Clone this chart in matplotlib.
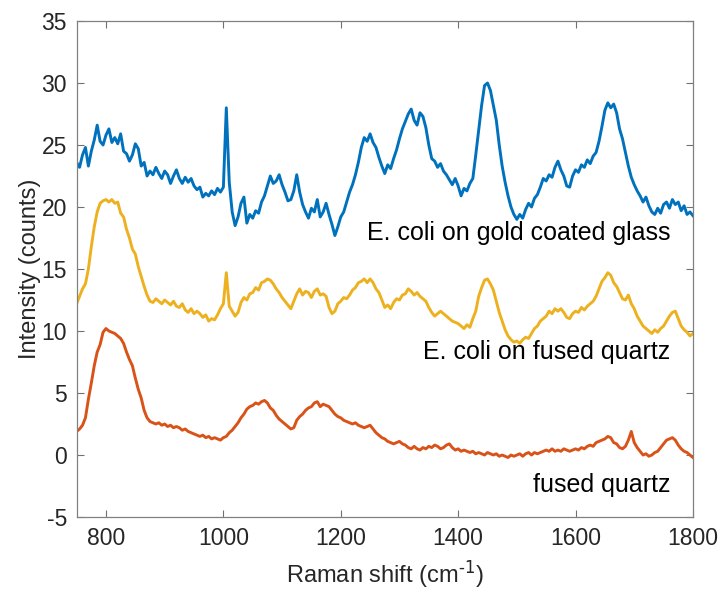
import numpy as np
import matplotlib as mpl
import matplotlib.pyplot as plt

mpl.use('Agg')
plt.rcParams['font.family'] = ['Liberation Sans', 'DejaVu Sans']
plt.rcParams['mathtext.default'] = 'regular'
plt.rcParams['axes.unicode_minus'] = False

# Raman shift grid (cm^-1), 5 cm^-1 spacing
shift = np.arange(750, 1805, 5)

# E. coli on gold coated glass
gold = [
    23.6, 23.2, 24.2, 24.8, 23.3, 24.5, 25.4, 26.6, 25.3, 25.0,
    25.8, 26.3, 25.2, 25.6, 25.1, 25.9, 24.5, 24.3, 23.7, 24.2,
    25.1, 24.7, 23.3, 23.6, 22.5, 22.9, 22.6, 23.2, 22.7, 22.3,
    22.9, 22.6, 21.9, 22.5, 23.0, 22.3, 21.9, 22.4, 22.0, 22.3,
    21.7, 21.4, 21.6, 20.8, 21.1, 20.9, 21.3, 21.0, 21.5, 21.2,
    21.6, 28.0, 22.0, 19.6, 18.5, 19.2, 20.3, 20.8, 18.7, 19.4,
    19.1, 19.7, 19.5, 20.4, 20.9, 21.7, 22.5, 21.9, 22.1, 22.6,
    21.8, 21.2, 20.5, 20.6, 21.3, 22.6, 21.2, 20.2, 19.6, 19.1,
    19.9, 19.6, 20.6, 19.2, 19.6, 20.3, 19.4, 18.6, 17.7, 18.4,
    19.2, 19.6, 20.4, 21.2, 21.8, 22.6, 23.6, 24.8, 25.6, 25.3,
    25.9, 25.2, 24.8, 24.0, 23.3, 22.7, 23.4, 23.1, 23.9, 24.6,
    25.5, 26.3, 26.9, 27.5, 27.9, 27.0, 26.6, 27.6, 27.3, 26.4,
    25.0, 23.9, 23.7, 23.2, 23.5, 22.9, 22.6, 22.2, 21.8, 22.3,
    21.7, 20.9, 21.5, 21.3, 21.9, 22.3, 24.2, 26.2, 28.2, 29.8,
    30.0, 29.4, 28.2, 27.0, 25.0, 23.3, 22.0, 20.9, 20.0, 19.4,
    19.0, 19.4, 19.1, 19.8, 20.3, 20.0, 20.7, 21.0, 21.6, 22.3,
    22.1, 22.6, 22.4, 23.2, 23.7, 23.0, 22.5, 21.7, 21.6, 22.5,
    23.0, 22.8, 23.4, 23.2, 23.8, 23.5, 24.1, 24.4, 25.3, 26.5,
    27.8, 28.4, 28.0, 28.3, 27.6, 26.3, 25.5, 24.4, 23.3, 22.4,
    21.8, 21.3, 20.9, 20.4, 20.8, 20.1, 19.6, 19.4, 19.9, 19.5,
    20.2, 20.4, 19.9, 20.6, 20.2, 20.4, 19.7, 20.1, 19.4, 19.6,
    19.3,
]

# E. coli on fused quartz
quartz_ecoli = [
    12.2, 12.8, 13.4, 13.8, 15.0, 16.8, 18.4, 19.6, 20.3, 20.5,
    20.6, 20.4, 20.6, 20.3, 20.4, 19.5, 19.2, 18.2, 17.5, 16.6,
    16.2, 15.2, 14.4, 13.6, 12.9, 12.4, 12.3, 12.6, 12.4, 12.2,
    12.5, 12.3, 12.1, 12.4, 12.0, 11.9, 12.2, 11.7, 11.5, 11.8,
    11.4, 11.6, 11.4, 11.1, 11.3, 10.8, 11.0, 10.9, 11.3, 11.8,
    12.2, 14.7, 12.0, 11.6, 11.2, 11.5, 12.3, 12.7, 12.5, 13.0,
    13.1, 13.5, 13.3, 13.9, 14.0, 14.2, 14.1, 13.8, 13.4, 13.1,
    12.7, 12.4, 12.1, 11.8, 12.4, 13.0, 13.4, 12.9, 13.2, 13.1,
    12.7, 13.2, 13.4, 12.9, 13.0, 12.8, 11.9, 11.4, 11.6, 12.2,
    12.4, 12.7, 12.6, 12.9, 13.3, 13.5, 13.9, 14.0, 14.2, 13.9,
    14.2, 13.9, 13.4, 13.1, 12.5, 11.9, 12.1, 11.8, 12.3, 12.6,
    12.5, 12.9, 13.0, 13.4, 13.2, 12.9, 13.1, 12.8, 12.6, 12.4,
    11.9, 11.5, 11.2, 11.4, 11.6, 11.4, 11.2, 11.0, 10.8, 10.7,
    10.6, 10.4, 10.2, 10.5, 10.3, 11.0, 11.6, 12.8, 13.5, 14.1,
    14.2, 13.8, 13.3, 12.4, 11.5, 10.8, 10.1, 9.6, 9.3, 9.1,
    9.2, 9.0, 9.3, 9.5, 9.4, 9.8, 10.2, 10.4, 10.8, 11.0,
    11.2, 11.6, 11.4, 11.8, 11.6, 11.8, 11.5, 11.1, 11.0, 11.4,
    11.6, 11.5, 11.9, 11.7, 12.0, 12.2, 12.4, 12.8, 13.4, 14.0,
    14.3, 14.7, 14.5, 13.9, 13.6, 13.1, 12.6, 12.5, 12.9, 12.2,
    11.8, 11.2, 10.8, 10.4, 10.2, 10.0, 9.8, 10.1, 9.9, 10.2,
    10.4, 10.8, 11.2, 11.5, 11.6, 11.0, 10.4, 10.1, 9.9, 9.6,
    9.8,
]

# fused quartz substrate
quartz = [
    1.9, 2.1, 2.4, 3.0, 4.5, 5.8, 7.2, 8.3, 8.9, 9.9,
    10.2, 10.0, 9.9, 9.8, 9.6, 9.4, 9.0, 8.3, 7.7, 7.2,
    6.2, 5.3, 4.6, 3.6, 3.0, 2.7, 2.6, 2.5, 2.6, 2.4,
    2.5, 2.3, 2.4, 2.2, 2.3, 2.2, 2.0, 2.1, 1.9, 1.8,
    1.7, 1.6, 1.5, 1.6, 1.4, 1.5, 1.3, 1.4, 1.3, 1.2,
    1.4, 1.5, 1.8, 2.0, 2.3, 2.6, 3.0, 3.3, 3.7, 3.9,
    4.0, 4.2, 4.1, 4.3, 4.4, 4.2, 3.8, 3.6, 3.2, 2.9,
    2.7, 2.5, 2.3, 2.1, 2.2, 2.8, 3.1, 3.3, 3.6, 3.8,
    3.9, 4.2, 4.3, 3.9, 4.1, 4.0, 3.9, 3.6, 3.3, 3.1,
    3.0, 2.8, 2.7, 2.6, 2.5, 2.6, 2.4, 2.3, 2.2, 2.3,
    2.4, 2.1, 1.8, 1.6, 1.4, 1.3, 1.1, 1.0, 0.9, 1.0,
    1.1, 0.9, 0.8, 0.6, 0.5, 0.7, 0.5, 0.4, 0.6, 0.5,
    0.7, 0.6, 0.8, 0.7, 0.5, 0.6, 0.8, 0.9, 0.6, 0.4,
    0.5, 0.3, 0.4, 0.3, 0.2, 0.3, 0.1, 0.2, 0.1, 0.0,
    0.2, 0.1, 0.0, 0.1, -0.1, 0.0, -0.1, -0.2, 0.0, -0.1,
    0.0, 0.1, -0.1, 0.1, 0.2, 0.0, 0.2, 0.1, 0.2, 0.3,
    0.4, 0.3, 0.5, 0.3, 0.4, 0.3, 0.5, 0.4, 0.3, 0.4,
    0.5, 0.4, 0.6, 0.5, 0.7, 0.8, 0.7, 1.0, 1.1, 1.2,
    1.3, 1.5, 1.4, 1.0, 0.9, 0.6, 0.5, 0.7, 1.2, 1.9,
    1.0, 0.6, 0.3, 0.0, 0.1, -0.1, 0.0, 0.2, 0.3, 0.6,
    0.9, 1.2, 1.3, 1.4, 1.2, 0.8, 0.5, 0.3, 0.2, 0.0,
    -0.2,
]

labels = ['E. coli on gold coated glass', 'E. coli on fused quartz', 'fused quartz']
label_y = [17.9, 8.3, -2.4]
colors = ['#0072BD', '#EDB120', '#D95319']

fig = plt.figure(figsize=(7.23, 5.90), dpi=100)
ax = fig.add_axes([0.106, 0.1237, 0.8524, 0.8407])

for y, c in zip([gold, quartz_ecoli, quartz], colors):
    ax.plot(shift, y, color=c, lw=2.1)

for lab, ly in zip(labels, label_y):
    ax.text(1762, ly, lab, ha='right', va='center', fontsize=18, color='black')

ax.set_xlim(750, 1800)
ax.set_ylim(-5, 35)
ax.set_xticks([800, 1000, 1200, 1400, 1600, 1800])
ax.set_yticks(range(-5, 40, 5))
ax.tick_params(direction='in', top=True, right=True, length=5, width=0.8,
               labelsize=16.5, colors='#262626', pad=7)
ax.tick_params(color='#707070')
for s in ax.spines.values():
    s.set_color('#808080')
    s.set_linewidth(0.9)

ax.set_xlabel('Raman shift (cm$^{\\text{-1}}$)', fontsize=17, color='#262626', labelpad=6)
ax.set_ylabel('Intensity (counts)', fontsize=17, color='#262626', labelpad=0)

fig.savefig('out.png', dpi=100)
